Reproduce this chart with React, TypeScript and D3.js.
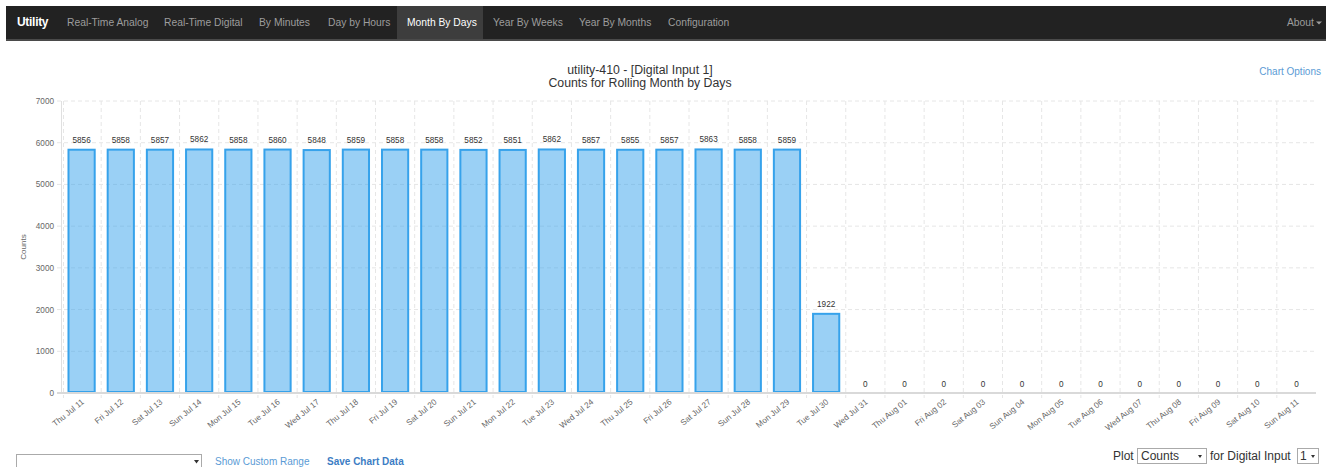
import React, { useEffect, useRef } from "react";
import * as d3 from "d3";

const categories = [
  "Thu Jul 11", "Fri Jul 12", "Sat Jul 13", "Sun Jul 14", "Mon Jul 15", "Tue Jul 16", "Wed Jul 17",
  "Thu Jul 18", "Fri Jul 19", "Sat Jul 20", "Sun Jul 21", "Mon Jul 22", "Tue Jul 23", "Wed Jul 24",
  "Thu Jul 25", "Fri Jul 26", "Sat Jul 27", "Sun Jul 28", "Mon Jul 29", "Tue Jul 30", "Wed Jul 31",
  "Thu Aug 01", "Fri Aug 02", "Sat Aug 03", "Sun Aug 04", "Mon Aug 05", "Tue Aug 06", "Wed Aug 07",
  "Thu Aug 08", "Fri Aug 09", "Sat Aug 10", "Sun Aug 11",
];
const counts = [
  5856, 5858, 5857, 5862, 5858, 5860, 5848, 5859, 5858, 5858, 5852, 5851, 5862, 5857, 5855, 5857,
  5863, 5858, 5859, 1922, 0, 0, 0, 0, 0, 0, 0, 0, 0, 0, 0, 0,
];
const yTicks = [0, 1000, 2000, 3000, 4000, 5000, 6000, 7000];
const navItems = [
  "Real-Time Analog", "Real-Time Digital", "By Minutes", "Day by Hours", "Month By Days",
  "Year By Weeks", "Year By Months", "Configuration",
];
const navX = [67, 164, 259, 328, 407, 493, 579, 668];
const activeNav = "Month By Days";
const titleLines = ["utility-410 - [Digital Input 1]", "Counts for Rolling Month by Days"];

const W = 1332;
const H = 467;
const FONT = "'Liberation Sans', Arial, Helvetica, sans-serif";

export default function App() {
  const ref = useRef<SVGSVGElement | null>(null);

  useEffect(() => {
    const svg = d3.select(ref.current);
    svg.selectAll("*").remove();

    // Navbar
    svg.append("rect").attr("x", 6).attr("y", 6).attr("width", W - 12).attr("height", 33).attr("fill", "#222");
    svg.append("rect").attr("x", 6).attr("y", 39).attr("width", W - 12).attr("height", 2).attr("fill", "#4a4a4a");
    svg.append("text").attr("x", 17).attr("y", 26).attr("fill", "#fff").attr("font-size", 12)
      .attr("font-weight", "bold").attr("font-family", FONT).attr("letter-spacing", -0.3).text("Utility");
    navItems.forEach((n, i) => {
      if (n === activeNav) {
        svg.append("rect").attr("x", navX[i] - 10).attr("y", 6).attr("width", 86).attr("height", 33).attr("fill", "#3d3d3d");
      }
      svg.append("text").attr("x", navX[i]).attr("y", 26).attr("fill", n === activeNav ? "#fff" : "#9d9d9d")
        .attr("font-size", 10.3).attr("font-family", FONT).text(n);
    });
    svg.append("text").attr("x", 1287).attr("y", 26).attr("fill", "#9d9d9d").attr("font-size", 10.3)
      .attr("font-family", FONT).text("About");
    svg.append("path").attr("d", "M1316,21.5 l6,0 l-3,3 z").attr("fill", "#9d9d9d");

    // Title
    titleLines.forEach((t, i) => {
      svg.append("text").attr("x", 640).attr("y", 74 + i * 13).attr("text-anchor", "middle")
        .attr("font-size", 12.3).attr("fill", "#333").attr("font-family", FONT).text(t);
    });
    svg.append("text").attr("x", 1321).attr("y", 75).attr("text-anchor", "end").attr("font-size", 10)
      .attr("fill", "#5b9bd5").attr("font-family", FONT).text("Chart Options");

    // Chart
    const left = 62, right = 1316, top = 101, bottom = 393;
    const x = d3.scaleBand<string>().domain(categories).range([left, right]).paddingInner(0.28).paddingOuter(0.14);
    const y = d3.scaleLinear().domain([0, 7000]).range([bottom, top]);
    const step = x.step();
    const bnd = (c: string) => (x(c) as number) - (step - x.bandwidth()) / 2;

    const g = svg.append("g");
    // horizontal grid
    g.selectAll("line.hg").data(yTicks.filter((t) => t > 0)).enter().append("line")
      .attr("x1", left - 5).attr("x2", right).attr("y1", (d) => y(d)).attr("y2", (d) => y(d))
      .attr("stroke", "#e6e6e6").attr("stroke-dasharray", "4,3").attr("stroke-width", 1);
    // vertical grid
    g.selectAll("line.vg").data(categories.slice(1)).enter().append("line")
      .attr("x1", (d) => bnd(d)).attr("x2", (d) => bnd(d)).attr("y1", top).attr("y2", bottom + 5)
      .attr("stroke", "#e6e6e6").attr("stroke-dasharray", "4,3").attr("stroke-width", 1);
    g.append("line").attr("x1", left + 1.5).attr("x2", left + 1.5).attr("y1", top).attr("y2", bottom + 5)
      .attr("stroke", "#e6e6e6").attr("stroke-dasharray", "4,3");
    // y axis line
    g.append("line").attr("x1", left - 0.5).attr("x2", left - 0.5).attr("y1", top).attr("y2", bottom)
      .attr("stroke", "#e0e0e0");
    // y tick labels
    g.selectAll("text.yt").data(yTicks).enter().append("text")
      .attr("x", 54).attr("y", (d) => y(d) + 3).attr("text-anchor", "end").attr("font-size", 8.2)
      .attr("fill", "#666").attr("font-family", FONT).text((d) => String(d));
    g.append("text").attr("transform", `translate(26,${(top + bottom) / 2}) rotate(-90)`)
      .attr("text-anchor", "middle").attr("font-size", 8).attr("fill", "#666").attr("font-family", FONT).text("Counts");

    // bars
    g.selectAll("rect.bar").data(categories).enter().append("rect")
      .attr("x", (d) => (x(d) as number) + 1)
      .attr("y", (d, i) => y(counts[i]) + 1)
      .attr("width", x.bandwidth() - 2)
      .attr("height", (d, i) => Math.max(0, bottom - y(counts[i]) - 2))
      .attr("fill", "rgba(54,162,235,0.5)")
      .attr("stroke", "rgb(54,162,235)")
      .attr("stroke-width", (d, i) => (counts[i] > 0 ? 2 : 0));

    // value labels
    g.selectAll("text.vl").data(categories).enter().append("text")
      .attr("x", (d) => (x(d) as number) + x.bandwidth() / 2)
      .attr("y", (d, i) => y(counts[i]) - 6)
      .attr("text-anchor", "middle").attr("font-size", 8.2).attr("fill", "#333").attr("font-family", FONT)
      .text((d, i) => String(counts[i]));

    // x axis line
    g.append("line").attr("x1", left - 5).attr("x2", right).attr("y1", bottom).attr("y2", bottom)
      .attr("stroke", "#d9d9d9").attr("stroke-width", 2);

    // x tick labels
    g.selectAll("text.xt").data(categories).enter().append("text")
      .attr("transform", (d) => `translate(${(x(d) as number) + x.bandwidth() / 2 + 3},${bottom + 10}) rotate(-39)`)
      .attr("text-anchor", "end").attr("font-size", 8.2).attr("fill", "#666").attr("font-family", FONT)
      .text((d) => d);

    // bottom controls
    svg.append("rect").attr("x", 16.5).attr("y", 454.5).attr("width", 185).attr("height", 20)
      .attr("fill", "#fff").attr("stroke", "#aaa");
    svg.append("path").attr("d", "M194,460 l5,0 l-2.5,3.5 z").attr("fill", "#333");
    svg.append("text").attr("x", 215).attr("y", 465).attr("font-size", 10).attr("fill", "#5b9bd5")
      .attr("font-family", FONT).text("Show Custom Range");
    svg.append("text").attr("x", 327).attr("y", 465).attr("font-size", 10).attr("font-weight", "bold")
      .attr("fill", "#3c7dc4").attr("font-family", FONT).text("Save Chart Data");

    svg.append("text").attr("x", 1113).attr("y", 460).attr("font-size", 12).attr("fill", "#333")
      .attr("font-family", FONT).text("Plot");
    svg.append("rect").attr("x", 1137.5).attr("y", 448.5).attr("width", 69).attr("height", 15)
      .attr("fill", "#fff").attr("stroke", "#aaa");
    svg.append("text").attr("x", 1141).attr("y", 460).attr("font-size", 12).attr("fill", "#333")
      .attr("font-family", FONT).text("Counts");
    svg.append("path").attr("d", "M1198,455 l4,0 l-2,3 z").attr("fill", "#333");
    svg.append("text").attr("x", 1210).attr("y", 460).attr("font-size", 12).attr("fill", "#333")
      .attr("font-family", FONT).text("for Digital Input");
    svg.append("rect").attr("x", 1297.5).attr("y", 448.5).attr("width", 21).attr("height", 15)
      .attr("fill", "#fff").attr("stroke", "#aaa");
    svg.append("text").attr("x", 1300).attr("y", 460).attr("font-size", 12).attr("fill", "#333")
      .attr("font-family", FONT).text("1");
    svg.append("path").attr("d", "M1311,455 l4,0 l-2,3 z").attr("fill", "#333");
  }, []);

  return (
    <svg
      ref={ref}
      width={W}
      height={H}
      style={{ position: "absolute", left: 0, top: 0, background: "#fff" }}
    />
  );
}
